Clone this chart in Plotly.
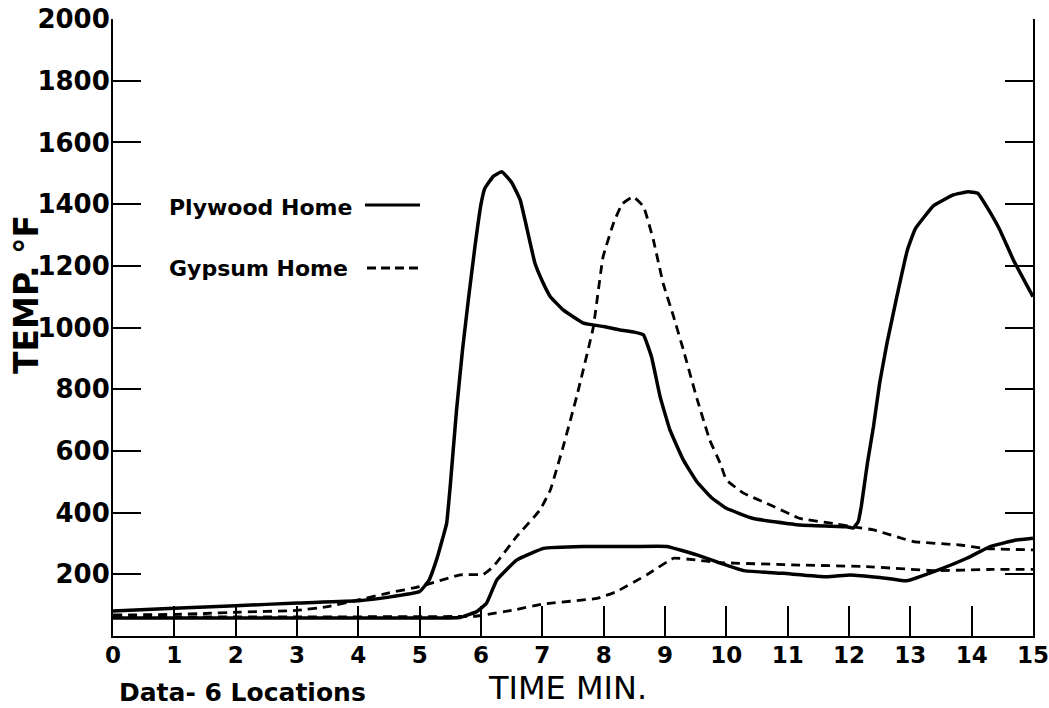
import plotly.graph_objects as go

# ---- data ----
ply_hi_x = [0, 1, 2, 3, 4, 4.5, 5.0, 5.15, 5.28, 5.38, 5.44, 5.5, 5.6, 5.7, 5.8, 5.9, 6.0, 6.06,
            6.2, 6.34, 6.5, 6.64, 6.75, 6.88, 7.0, 7.13, 7.34, 7.67, 8.0, 8.27, 8.5, 8.65, 8.78,
            8.92, 9.08, 9.3, 9.52, 9.75, 10.0, 10.44, 11.2, 11.96, 12.07, 12.15, 12.2, 12.3, 12.4,
            12.5, 12.62, 12.78, 12.95, 13.08, 13.38, 13.7, 13.95, 14.1, 14.25, 14.46, 14.68, 15.0]
ply_hi_y = [81, 90, 98, 107, 114, 126, 144, 180, 250, 320, 365, 490, 730, 930, 1100, 1260, 1400, 1450,
            1490, 1505, 1470, 1413, 1320, 1208, 1150, 1100, 1057, 1014, 1003, 992, 985, 976, 905,
            776, 668, 570, 500, 450, 414, 381, 360, 354, 350, 370, 420, 560, 680,
            820, 950, 1100, 1250, 1320, 1395, 1430, 1440, 1435, 1390, 1316, 1219, 1100]

ply_lo_x = [0, 1, 2, 3, 4, 5, 5.66, 5.93, 6.09, 6.26, 6.58, 7.02, 7.67, 8.5, 9.03, 9.52, 9.9,
            10.28, 10.93, 11.64, 12.02, 12.5, 12.94, 13.48, 13.92, 14.3, 14.73, 15.0]
ply_lo_y = [58, 58, 58, 58, 58, 58, 60, 79, 106, 182, 246, 284, 290, 290, 290, 263, 236,
            212, 203, 192, 198, 190, 179, 216, 252, 290, 311, 317]

gyp_hi_x = [0, 1, 1.5, 2, 3, 3.5, 4, 4.5, 5.0, 5.66, 6.04, 6.2, 6.58, 6.96, 7.13, 7.34, 7.56,
            7.83, 7.99, 8.16, 8.3, 8.48, 8.65, 8.81, 8.97, 9.14, 9.3, 9.52, 9.73, 9.9, 10.0,
            10.28, 10.66, 11.2, 11.74, 12.07, 12.4, 13.05, 13.81, 14.19, 15.0]
gyp_hi_y = [68, 70, 73, 77, 83, 95, 117, 140, 160, 198, 200, 225, 322, 408, 473, 614, 776,
            1000, 1229, 1338, 1400, 1424, 1392, 1284, 1143, 1035, 927, 770, 635, 560, 506,
            463, 430, 381, 365, 354, 344, 306, 295, 284, 279]

gyp_lo_x = [0, 3, 5.9, 6.04, 6.53, 7.02, 7.89, 8.21, 8.7, 9.14, 9.52, 9.9, 11.2, 12.29,
            13.38, 14.35, 15.0]
gyp_lo_y = [62, 62, 64, 68, 84, 104, 122, 144, 198, 252, 246, 238, 230, 225,
            212, 216, 216]

x_ticks = list(range(0, 16))
y_ticks = list(range(200, 2001, 200))

FONT = "DejaVu Sans"

fig = go.Figure()
solid = dict(color="black", width=3.5)
dashed = dict(color="black", width=2.8, dash="9px,6px")
for xs, ys, ln in [(ply_hi_x, ply_hi_y, solid), (ply_lo_x, ply_lo_y, solid),
                   (gyp_hi_x, gyp_hi_y, dashed), (gyp_lo_x, gyp_lo_y, dashed)]:
    fig.add_trace(go.Scatter(x=xs, y=ys, mode="lines", line=dict(shape="spline", smoothing=0.3, **ln),
                             showlegend=False, hoverinfo="skip", cliponaxis=False))

W, H = 1049, 708
L, R, T, B = 113, 16, 19, 72
pw, ph = W - L - R, H - T - B
def px(x):
    return (x - L) / pw
def py(y):
    return (H - B - y) / ph

fig.update_layout(
    width=W, height=H,
    margin=dict(l=L, r=R, t=T, b=B, autoexpand=False),
    paper_bgcolor="white", plot_bgcolor="white",
    font=dict(family=FONT, color="black"),
    xaxis=dict(range=[0, 15], tickvals=x_ticks, ticktext=[str(v) for v in x_ticks],
               ticks="inside", ticklen=30, tickwidth=2, tickcolor="black", automargin=False,
               ticklabelstandoff=-3, ticklabeloverflow="allow",
               showline=True, linecolor="black", linewidth=2, showgrid=False, zeroline=False,
               tickfont=dict(family=FONT, size=23, color="black", weight="bold")),
    yaxis=dict(range=[0, 2000], tickvals=y_ticks, ticktext=[str(v) for v in y_ticks],
               ticks="inside", ticklen=28, tickwidth=2, tickcolor="black", automargin=False,
               ticklabelstandoff=-4, ticklabeloverflow="allow",
               showline=True, linecolor="black", linewidth=2, mirror="ticks",
               showgrid=False, zeroline=False,
               tickfont=dict(family=FONT, size=26, color="black", weight="bold")),
)

ann = [
    dict(text="TEMP. °F", x=px(26), y=py(295), textangle=-90, font=dict(size=33, weight="bold"),
         xanchor="center", yanchor="middle"),
    dict(text="TIME MIN.", x=px(567), y=py(688), font=dict(size=32), xanchor="center", yanchor="middle"),
    dict(text="Data- 6 Locations", x=px(117), y=py(692), font=dict(size=25, weight="bold"),
         xanchor="left", yanchor="middle"),
    dict(text="Plywood Home", x=px(167), y=py(207), font=dict(size=22, weight="bold"), xanchor="left", yanchor="middle"),
    dict(text="Gypsum Home", x=px(167), y=py(268), font=dict(size=22, weight="bold"), xanchor="left", yanchor="middle"),
]
for a in ann:
    fig.add_annotation(xref="paper", yref="paper", showarrow=False, **a)

fig.add_shape(type="line", xref="paper", yref="paper", x0=px(365), x1=px(420), y0=py(205), y1=py(205),
              line=dict(color="black", width=3))
fig.add_shape(type="line", xref="paper", yref="paper", x0=px(367), x1=px(420), y0=py(268), y1=py(268),
              line=dict(color="black", width=3, dash="9px,5px"))

fig.write_html("out.html", config={"displayModeBar": False},
               post_script="document.body.style.margin='0';document.body.style.overflow='hidden';")
